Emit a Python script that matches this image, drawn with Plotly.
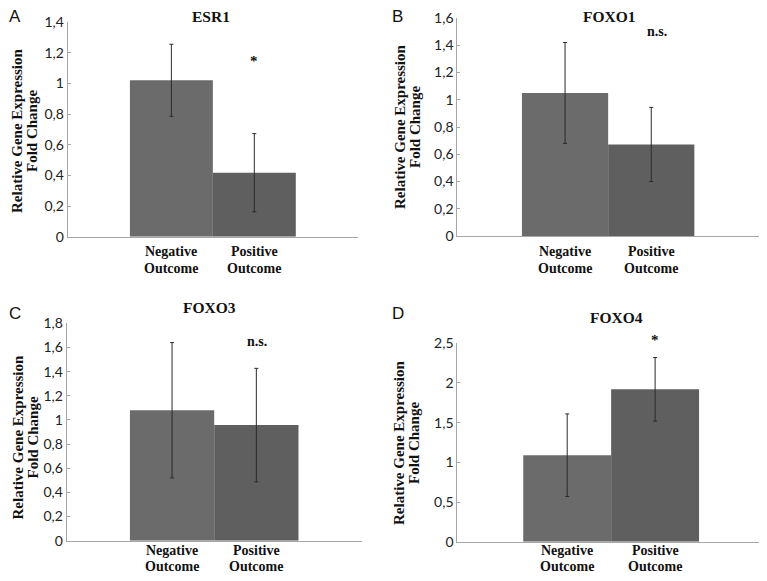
import plotly.graph_objects as go

# data
genes = ["ESR1", "FOXO1", "FOXO3", "FOXO4"]
letters = ["A", "B", "C", "D"]
groups = [["Negative", "Outcome"], ["Positive", "Outcome"]]
neg_mean = [1.02, 1.05, 1.08, 1.09]
neg_err = [0.235, 0.37, 0.56, 0.52]
pos_mean = [0.417, 0.672, 0.957, 1.92]
pos_err = [0.255, 0.272, 0.47, 0.40]
marks = ["*", "n.s.", "n.s.", "*"]
y_max = [1.4, 1.6, 1.8, 2.5]
y_dtick = [0.2, 0.2, 0.2, 0.5]

# the page body keeps its 8px margin, so the figure is sized to fit inside it
PAD = 8
W, H = 767 - 2 * PAD, 581 - 2 * PAD
NEG_COLOR = "#6b6b6b"
POS_COLOR = "#5f5f5f"
AXIS_COLOR = "#a6a6a6"
SERIF = "Liberation Serif, Times New Roman, serif"
SANS = "Lato, Liberation Sans, sans-serif"


def px(x):
    return min(max((x - PAD) / W, 0.0), 1.0)


def py(y):
    return min(max(1 - (y - PAD) / H, 0.0), 1.0)


# panel boxes in window pixels: x0, x1, y_top, y_bottom
boxes = [
    (67.7, 358.0, 22.0, 236.7),
    (457.3, 760.0, 18.0, 236.0),
    (66.7, 361.7, 323.3, 540.7),
    (457.3, 759.0, 343.3, 541.7),
]
title_pos = [(211, 17), (609, 17), (209.5, 307.5), (616, 317.5)]
letter_pos = [(15, 17), (397.5, 17), (15, 313), (398, 313)]
ytitle_x = [(17, 32), (400, 415), (17, 32), (399, 414)]
ytitle_y = [131, 127, 437.5, 443]
xlabel_y = [(251, 268), (251, 268), (550, 566), (550, 566)]
mark_pos = [(254.3, 61), (656.7, 31), (256.7, 341.7), (655, 340)]

bar_x = [1.25, 2.25]


def fmt(v):
    s = f"{v:.1f}".replace(".", ",")
    return s[:-2] if s.endswith(",0") else s


fig = go.Figure()
layout = {}
annotations = []

for i, gene in enumerate(genes):
    n = "" if i == 0 else str(i + 1)
    xa, ya = f"x{n}", f"y{n}"
    x0, x1, yt, yb = boxes[i]

    fig.add_trace(
        go.Bar(
            x=bar_x,
            y=[neg_mean[i], pos_mean[i]],
            width=1.0,
            marker={"color": [NEG_COLOR, POS_COLOR], "line": {"width": 0}},
            error_y={
                "type": "data",
                "array": [neg_err[i], pos_err[i]],
                "color": "#2a2a2a",
                "thickness": 1,
                "width": 2,
            },
            xaxis=xa,
            yaxis=ya,
            showlegend=False,
        )
    )

    ticks = []
    v = 0.0
    while v <= y_max[i] + 1e-9:
        ticks.append(round(v, 2))
        v += y_dtick[i]

    # D is squeezed at the right edge, so its range is trimmed to keep the bar scale
    x_hi = 3.5 if i != 3 else 3.5 * (x1 - x0) / (765.0 - x0)

    layout[f"xaxis{n}"] = {
        "domain": [px(x0), px(x1)],
        "anchor": ya,
        "range": [0, x_hi],
        "showticklabels": False,
        "showline": True,
        "linecolor": AXIS_COLOR,
        "linewidth": 1,
        "ticks": "",
        "showgrid": False,
        "zeroline": False,
        "automargin": False,
        "fixedrange": True,
    }
    layout[f"yaxis{n}"] = {
        "domain": [py(yb), py(yt)],
        "anchor": xa,
        "range": [0, y_max[i]],
        "tickvals": ticks,
        "ticktext": [fmt(t) for t in ticks],
        "showline": True,
        "linecolor": AXIS_COLOR,
        "linewidth": 1,
        "ticks": "inside",
        "ticklen": 3,
        "tickcolor": AXIS_COLOR,
        "showgrid": False,
        "zeroline": False,
        "automargin": False,
        "ticklabeloverflow": "allow",
        "tickfont": {"family": SANS, "size": 14, "color": "#222"},
        "fixedrange": True,
    }

    # category labels, one annotation per line so the spacing stays tight
    for bx, words in zip(bar_x, groups):
        for word, wy in zip(words, xlabel_y[i]):
            annotations.append(dict(
                x=bx, y=py(wy), xref=xa, yref="paper",
                text=f"<b>{word}</b>", showarrow=False,
                font={"family": SERIF, "size": 14, "color": "#111"},
                xanchor="center", yanchor="middle",
            ))

    tx, ty = title_pos[i]
    annotations.append(dict(
        x=px(tx), y=py(ty), xref="paper", yref="paper",
        text=f"<b>{gene}</b>", showarrow=False,
        font={"family": SERIF, "size": 15.5, "color": "#111"},
        xanchor="center", yanchor="middle",
    ))
    lx, ly = letter_pos[i]
    annotations.append(dict(
        x=px(lx), y=py(ly), xref="paper", yref="paper",
        text=letters[i], showarrow=False,
        font={"family": "Liberation Sans, Arial, sans-serif", "size": 17, "color": "#111"},
        xanchor="center", yanchor="middle",
    ))
    for line, lxx in zip(["Relative Gene Expression", "Fold Change"], ytitle_x[i]):
        annotations.append(dict(
            x=px(lxx), y=py(ytitle_y[i]), xref="paper", yref="paper",
            text=f"<b>{line}</b>", showarrow=False, textangle=-90,
            font={"family": SERIF, "size": 15, "color": "#111"},
            xanchor="center", yanchor="middle",
        ))
    mx, my = mark_pos[i]
    annotations.append(dict(
        x=px(mx), y=py(my), xref="paper", yref="paper",
        text=f"<b>{marks[i]}</b>", showarrow=False,
        font={"family": SERIF, "size": 14 if marks[i] != "*" else 15, "color": "#111"},
        xanchor="center", yanchor="middle",
    ))

fig.update_layout(
    width=W,
    height=H,
    margin={"l": 0, "r": 0, "t": 0, "b": 0, "autoexpand": False},
    paper_bgcolor="white",
    plot_bgcolor="white",
    annotations=annotations,
    **layout,
)

fig.write_html("out.html")
